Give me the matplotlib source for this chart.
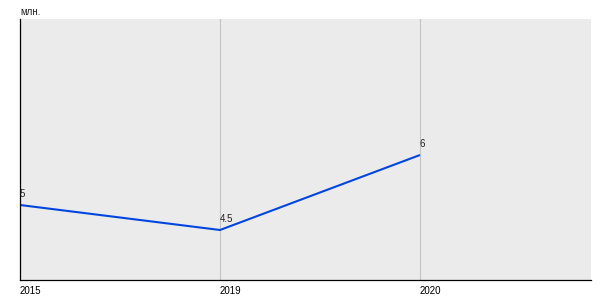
import matplotlib
matplotlib.use('Agg')
from matplotlib import pyplot as plt

years = ["2015", "2019", "2020"]
values = [5, 4.5, 6]
value_labels = ["5", "4.5", "6"]

plt.rcParams['font.family'] = ['Liberation Sans', 'DejaVu Sans']

fig = plt.figure(figsize=(6, 3), dpi=100)
ax = fig.add_axes([20/600, 20/300, 571/600, 261/300])
ax.set_facecolor('#ebebeb')

xs = list(range(len(years)))
ax.plot(xs, values, color='#0046e0', lw=1.5, solid_capstyle='butt')

for x, v, lab in zip(xs, values, value_labels):
    ax.annotate(lab, (x, v), xytext=(0, 4), textcoords='offset points',
                ha='left', va='bottom', fontsize=7, color='#222222')

ax.set_xlim(0, 2.855)
ax.set_ylim(3.5, 8.72)
ax.set_xticks(xs)
ax.set_xticklabels(years, fontsize=7, ha='left')
ax.set_yticks([])
ax.tick_params(axis='x', length=0, pad=4)
ax.grid(axis='x', color='#c4c4c4', lw=0.8)
ax.set_axisbelow(True)

ax.spines['right'].set_visible(False)
ax.spines['top'].set_visible(False)
ax.spines['left'].set_linewidth(0.9)
ax.spines['bottom'].set_linewidth(0.9)

fig.text(20/600, 1 - 12/300, "млн.", fontsize=7, ha='left', va='center',
         color='#222222')

fig.savefig('out.png', dpi=100)
